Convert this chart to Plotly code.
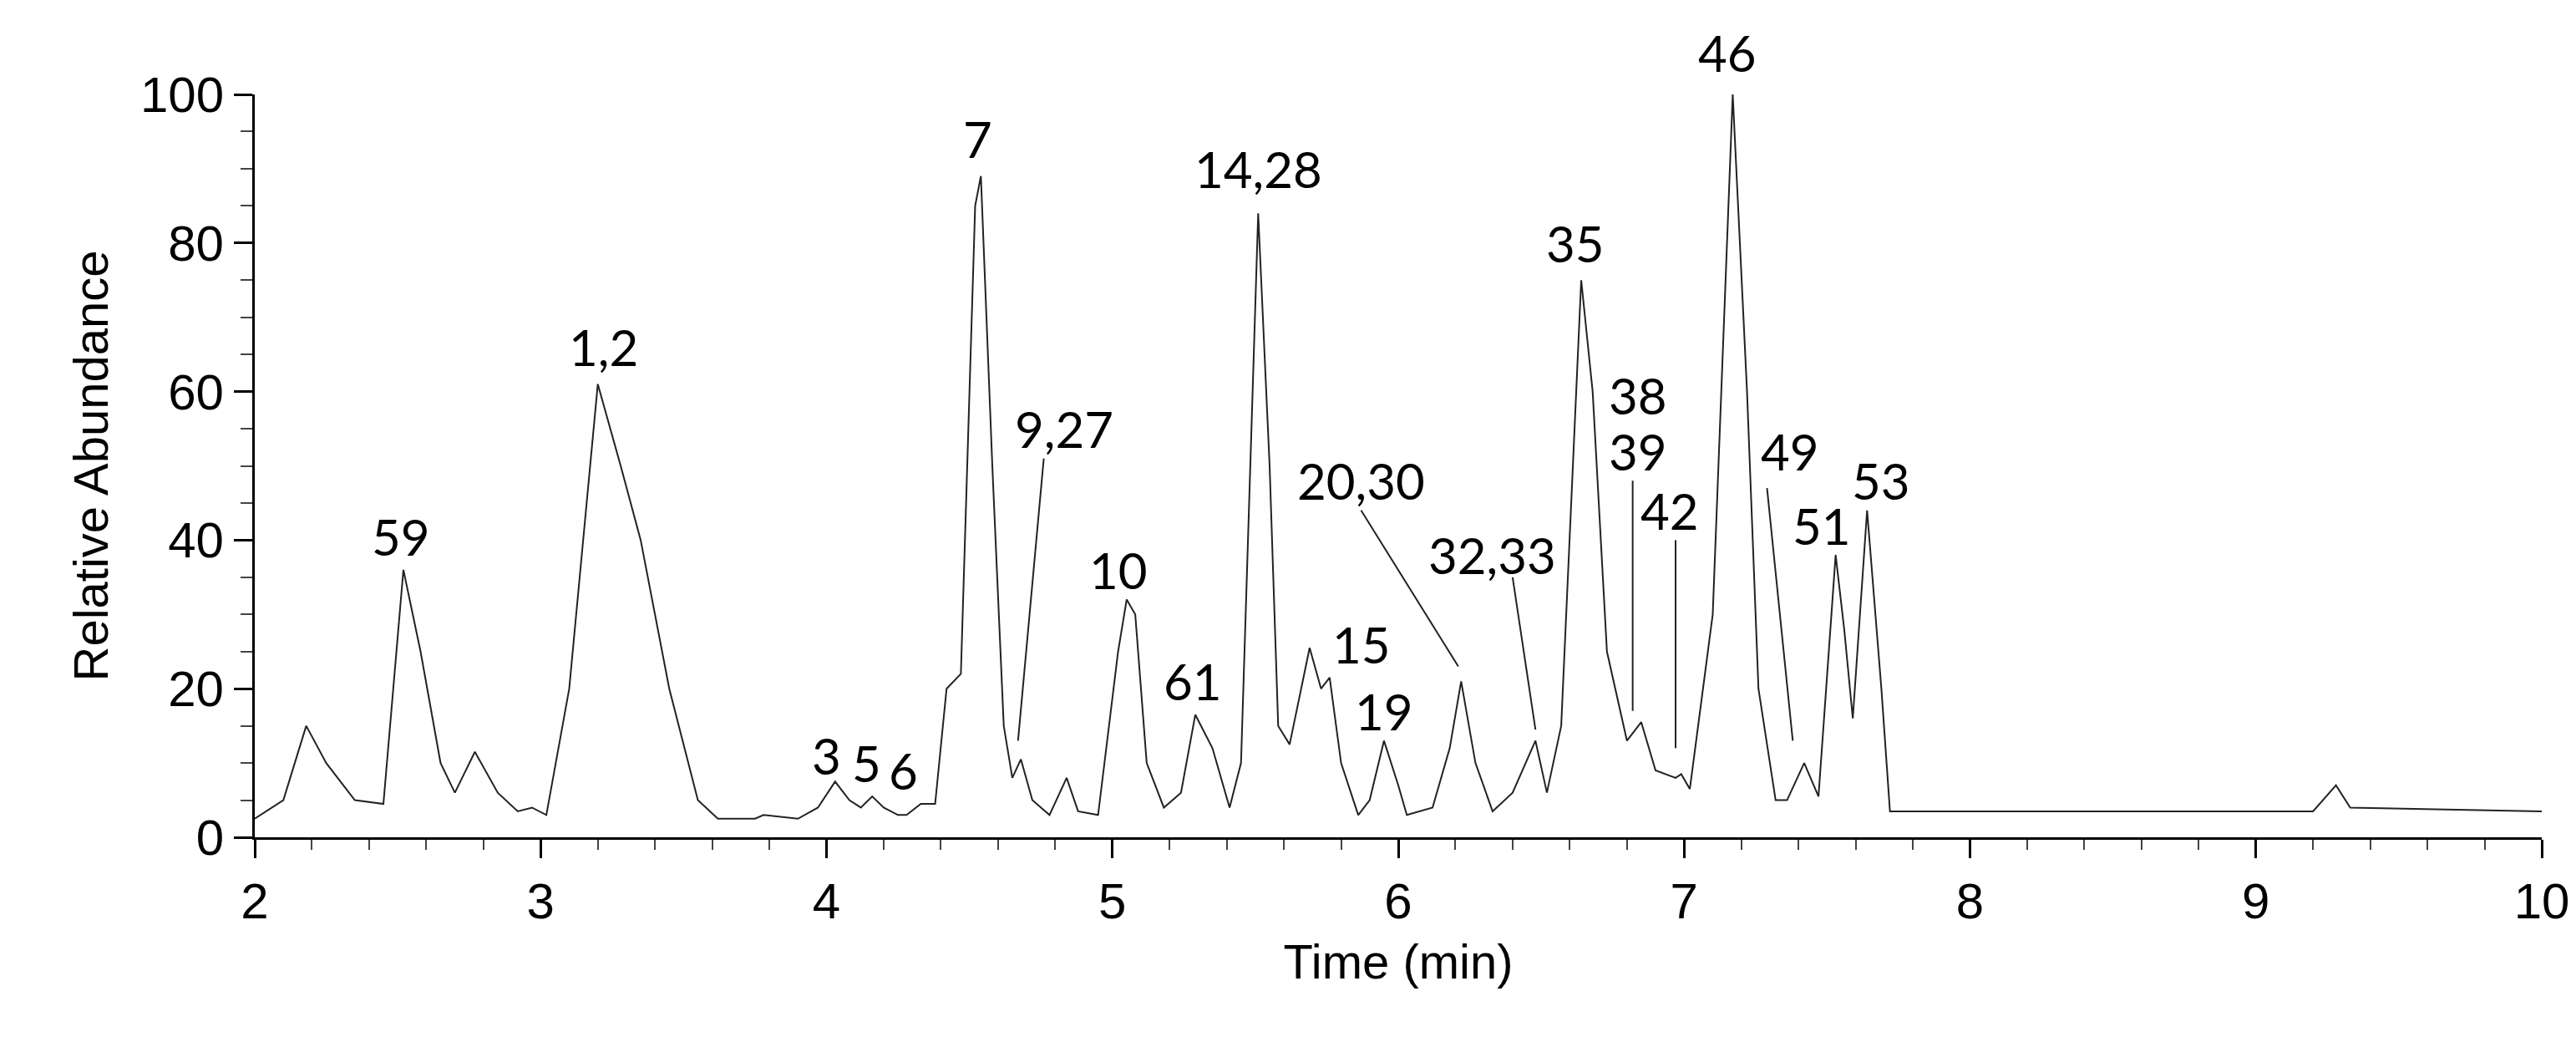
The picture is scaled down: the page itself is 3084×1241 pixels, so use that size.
import plotly.graph_objects as go

time = [2.0,2.1,2.18,2.25,2.35,2.45,2.52,2.58,2.65,2.70,2.77,2.85,2.92,2.97,3.02,3.1,3.2,3.28,3.35,3.45,3.55,3.62,3.75,3.78,3.9,3.97,4.03,4.08,4.12,4.16,4.2,4.25,4.28,4.33,4.38,4.42,4.47,4.52,4.54,4.58,4.62,4.65,4.68,4.72,4.78,4.84,4.88,4.95,5.02,5.05,5.08,5.12,5.18,5.24,5.29,5.35,5.41,5.45,5.51,5.55,5.58,5.62,5.69,5.73,5.76,5.8,5.86,5.90,5.95,6.0,6.03,6.12,6.18,6.22,6.27,6.33,6.4,6.48,6.52,6.57,6.64,6.68,6.73,6.8,6.85,6.9,6.97,6.99,7.02,7.1,7.17,7.22,7.26,7.32,7.36,7.42,7.47,7.53,7.56,7.59,7.64,7.69,7.72,8.0,9.0,9.2,9.28,9.33,10.0]
abundance = [2.5,5,15,10,5,4.5,36,25,10,6,11.5,6,3.5,4,3,20,61,50,40,20,5,2.5,2.5,3,2.5,4,7.5,5,4,5.5,4,3,3,4.5,4.5,20,22,85,89,50,15,8,10.5,5,3,8,3.5,3,25,32,30,10,4,6,16.5,12,4,10,84,50,15,12.5,25.5,20,21.5,10,3,5,13,7,3,4,12,21,10,3.5,6,13,6,15,75,60,25,13,15.5,9,8,8.5,6.5,30,100,60,20,5,5,10,5.5,38,28,16,44,20,3.5,3.5,3.5,3.5,7,4,3.5]

peak_labels = ["59","1,2","3","5","6","7","9,27","10","61","14,28","15","19","20,30","32,33","35","38","39","42","46","49","51","53"]
label_x = [2.51,3.22,4.0,4.14,4.27,4.53,4.83,5.02,5.28,5.51,5.87,5.95,5.87,6.33,6.62,6.84,6.84,6.95,7.15,7.37,7.48,7.69]
label_y = [40.5,66,11,10,9,94,55,36,21,90,26,17,48,38,80,59.5,52,44,100,52,42,48]
label_shift = [0,0,0,0,0,0,0,0,0,0,0,0,0,0,0,0,0,0,50,0,0,0]

# leader lines: start (x,y) -> end (x,y)
lead_x0 = [4.76,5.87,6.40,6.82,6.97,7.29]
lead_y0 = [51,44,35,48,40,47]
lead_x1 = [4.67,6.21,6.48,6.82,6.97,7.38]
lead_y1 = [13,23,14.5,17,12,13]

fig = go.Figure()
fig.add_trace(go.Scatter(x=time, y=abundance, mode="lines",
                         line=dict(color="#222222", width=2), showlegend=False))
for x0, y0, x1, y1 in zip(lead_x0, lead_y0, lead_x1, lead_y1):
    fig.add_trace(go.Scatter(x=[x0, x1], y=[y0, y1], mode="lines",
                             line=dict(color="#222222", width=2), showlegend=False))
for t, lx, ly, s in zip(peak_labels, label_x, label_y, label_shift):
    fig.add_annotation(x=lx, y=ly, text=t, showarrow=False, yshift=s,
                       font=dict(family="Lato", size=60, color="black"))

fig.update_layout(
    width=3084, height=1241, plot_bgcolor="white", paper_bgcolor="white",
    margin=dict(l=297, r=49, t=105, b=247),
    font=dict(family="Liberation Sans", color="black"),
)
fig.update_xaxes(range=[2, 10], dtick=1, tickfont=dict(size=60),
                 showline=True, linecolor="black", linewidth=3,
                 ticks="outside", ticklen=22, tickwidth=3, tickcolor="black",
                 minor=dict(dtick=0.2, ticks="outside", ticklen=12, tickwidth=2, tickcolor="#444"),
                 showgrid=False, zeroline=False,
                 title=dict(text="Time (min)", font=dict(size=58), standoff=20))
fig.update_yaxes(range=[0, 100], dtick=20, tickfont=dict(size=60),
                 showline=True, linecolor="black", linewidth=3,
                 ticks="outside", ticklen=22, tickwidth=3, tickcolor="black",
                 minor=dict(dtick=5, ticks="outside", ticklen=14, tickwidth=2, tickcolor="#444"),
                 showgrid=False, zeroline=False,
                 title=dict(text="Relative Abundance", font=dict(size=58), standoff=20))
fig.update_traces(cliponaxis=False)
fig.write_html("out.html")
